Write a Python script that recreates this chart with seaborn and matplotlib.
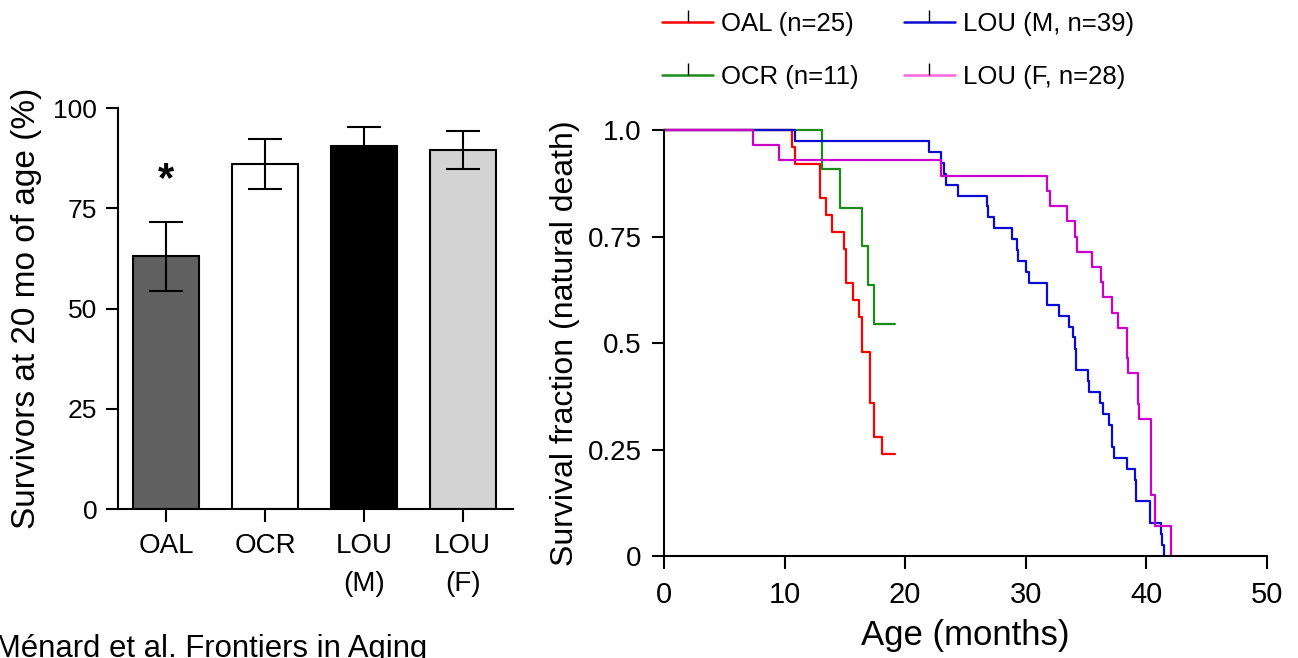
import matplotlib
matplotlib.use("Agg")
import matplotlib.pyplot as plt
from matplotlib.lines import Line2D
import seaborn as sns
import pandas as pd

# left panel: survivors at 20 months (%)
bar_groups = ["OAL", "OCR", "LOU\n(M)", "LOU\n(F)"]
bar_means = [63.0, 86.0, 90.5, 89.5]
bar_sem = [8.7, 6.3, 4.7, 4.7]
bar_colors = ["#606060", "#ffffff", "#000000", "#d3d3d3"]

# right panel: Kaplan-Meier steps (month of death, survival after the step)
oal_times = [10.65, 10.9, 12.9, 13.4, 13.9, 14.9, 15.1, 15.7, 16.2, 16.4, 17.1, 17.4, 18.1]
oal_surv = [0.96, 0.92, 0.84, 0.80, 0.76, 0.72, 0.64, 0.60, 0.56, 0.48, 0.36, 0.28, 0.24]
oal_end = 19.2

ocr_times = [13.1, 14.6, 16.4, 16.9, 17.4]
ocr_surv = [0.909, 0.818, 0.727, 0.636, 0.545]
ocr_end = 19.2

louM_times = [10.9, 22.0, 23.0, 23.2, 23.4, 24.4, 26.8, 26.9, 27.4, 28.9, 29.3, 29.4,
              30.0, 30.3, 31.8, 32.8, 33.6, 33.9, 34.1, 34.2, 35.2, 35.3, 36.2, 36.4,
              36.9, 37.2, 37.3, 38.4, 39.1, 39.2, 40.3, 41.2, 41.3, 41.5]
louM_surv = [0.974, 0.949, 0.923, 0.897, 0.872, 0.846, 0.821, 0.795, 0.769, 0.744, 0.718, 0.692,
             0.667, 0.641, 0.590, 0.564, 0.538, 0.513, 0.487, 0.436, 0.410, 0.385, 0.359, 0.333,
             0.308, 0.256, 0.231, 0.205, 0.179, 0.128, 0.077, 0.051, 0.026, 0.0]
louM_end = 41.5

louF_times = [7.4, 9.5, 23.0, 31.8, 32.0, 33.4, 34.1, 34.3, 35.5, 36.3, 36.4, 37.2, 37.7,
              38.4, 38.5, 39.3, 39.4, 40.4, 40.75, 42.1]
louF_surv = [0.964, 0.929, 0.893, 0.857, 0.821, 0.786, 0.750, 0.714, 0.679, 0.643, 0.607,
             0.571, 0.536, 0.464, 0.429, 0.357, 0.321, 0.143, 0.071, 0.0]
louF_end = 42.1

curve_labels = ["OAL (n=25)", "OCR (n=11)", "LOU (M, n=39)", "LOU (F, n=28)"]
curve_colors = ["#ff0000", "#1a8c1a", "#0a0ad0", "#cc00cc"]
legend_colors = ["#ff0000", "#1a8c1a", "#0a0ad0", "#ff66dd"]

sns.set_style("ticks")
plt.rcParams["font.family"] = ["Liberation Sans", "DejaVu Sans"]
plt.rcParams["text.color"] = "black"
plt.rcParams["axes.labelcolor"] = "black"
plt.rcParams["axes.linewidth"] = 1.5
plt.rcParams["xtick.major.width"] = 1.5
plt.rcParams["ytick.major.width"] = 1.5
plt.rcParams["xtick.major.size"] = 9
plt.rcParams["ytick.major.size"] = 9
plt.rcParams["xtick.color"] = "black"
plt.rcParams["ytick.color"] = "black"
plt.rcParams["axes.edgecolor"] = "black"

fig = plt.figure(figsize=(12.98, 6.58), dpi=100)
ax1 = fig.add_axes([0.0909, 0.2264, 0.3043, 0.6094])
ax2 = fig.add_axes([0.5116, 0.155, 0.4642, 0.6474])

# bars
sns.barplot(x=bar_groups, y=bar_means, hue=bar_groups, palette=bar_colors, legend=False,
            width=0.67, saturation=1, edgecolor="black", linewidth=1.5, ax=ax1)
ax1.errorbar(range(len(bar_groups)), bar_means, yerr=bar_sem, fmt="none", ecolor="black",
             elinewidth=1.5, capsize=12.5, capthick=1.5, zorder=4)
ax1.text(0, 82, "*", ha="center", va="center", fontsize=30, fontweight="bold")
ax1.set_ylim(0, 100)
ax1.set_xlim(-0.49, 3.51)
ax1.set_yticks([0, 25, 50, 75, 100])
ax1.tick_params(axis="y", labelsize=19, pad=6)
ax1.tick_params(axis="x", labelsize=20, pad=8)
for lab in ax1.get_xticklabels():
    lab.set_linespacing(1.6)
ax1.set_ylabel("Survivors at 20 mo of age (%)", fontsize=24, labelpad=8)
sns.despine(ax=ax1)

# survival curves
rows = []
series = [(oal_times, oal_surv, oal_end), (ocr_times, ocr_surv, ocr_end),
          (louM_times, louM_surv, louM_end), (louF_times, louF_surv, louF_end)]
for lab, (t, s, end) in zip(curve_labels, series):
    xs = [0.0] + list(t)
    ys = [1.0] + list(s)
    if end > xs[-1]:
        xs.append(end)
        ys.append(ys[-1])
    for x, y in zip(xs, ys):
        rows.append({"month": x, "survival": y, "group": lab})
surv_df = pd.DataFrame(rows)

sns.lineplot(data=surv_df, x="month", y="survival", hue="group", hue_order=curve_labels,
             palette=curve_colors, estimator=None, drawstyle="steps-post", linewidth=1.6,
             legend=False, clip_on=False, ax=ax2)
ax2.set_xlim(0, 50)
ax2.set_ylim(0, 1.0)
ax2.set_xticks([0, 10, 20, 30, 40, 50])
ax2.set_yticks([0, 0.25, 0.5, 0.75, 1.0])
ax2.set_yticklabels(["0", "0.25", "0.5", "0.75", "1.0"])
ax2.tick_params(axis="y", labelsize=20, pad=7)
ax2.tick_params(axis="x", labelsize=21, pad=9)
ax2.set_xlabel("Age (months)", fontsize=25, labelpad=7)
ax2.set_ylabel("Survival fraction (natural death)", fontsize=23, labelpad=6)
sns.despine(ax=ax2)

handles = [Line2D([0], [0], color=c, linewidth=1.8, marker=2, markersize=9,
                  markeredgecolor="black", markeredgewidth=1.0) for c in legend_colors]
fig.legend(handles, curve_labels, loc="upper left", bbox_to_anchor=(662 / 1298, 0.982),
           ncol=2, frameon=False, fontsize=18.5, handlelength=2.0, handletextpad=0.3,
           columnspacing=1.75, labelspacing=1.15, borderpad=0, borderaxespad=0, numpoints=1)

fig.text(-5 / 1298, 1.5 / 658, "Ménard et al. Frontiers in Aging", fontsize=22.4,
         va="baseline", ha="left")

fig.savefig("out.png", dpi=100)
